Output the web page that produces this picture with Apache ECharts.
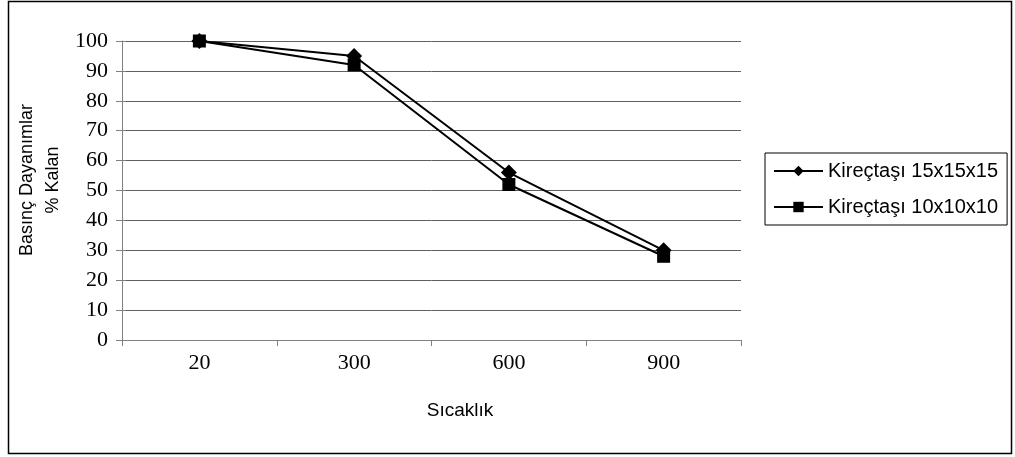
<!DOCTYPE html>
<html>
<head>
<meta charset="utf-8">
<script src="https://cdn.jsdelivr.net/npm/echarts@6/dist/echarts.min.js"></script>
<style>
  html, body { margin: 0; padding: 0; background: #fff; }
  #main { width: 1015px; height: 457px; }
</style>
</head>
<body>
<div id="main"></div>
<script>
// kategoriler (sıcaklık)
const categories = ["20", "300", "600", "900"];
// seriler
const seriesNames = ["Kireçtaşı 15x15x15", "Kireçtaşı 10x10x10"];
const kirec15 = [100, 95, 56, 30];
const kirec10 = [100, 92, 52, 28];

const chart = echarts.init(document.getElementById("main"));

const serifFont = "'Liberation Serif', 'Times New Roman', serif";
const sansFont = "'Liberation Sans', Arial, sans-serif";

const option = {
  animation: false,
  backgroundColor: "#fff",
  grid: { left: 122, right: 274, top: 41, bottom: 117 },
  // çerçeve ve y ekseni başlığı
  graphic: [
    {
      type: "rect",
      shape: { x: 8.5, y: 1.5, width: 1003, height: 452 },
      style: { fill: "none", stroke: "#000", lineWidth: 1.5 },
      silent: true,
    },
    {
      type: "text",
      x: 40,
      y: 180,
      rotation: Math.PI / 2,
      style: {
        text: "Basınç Dayanımlar\n% Kalan",
        font: "18px " + sansFont,
        fill: "#000",
        align: "center",
        verticalAlign: "middle",
        lineHeight: 26,
      },
    },
  ],
  legend: {
    orient: "vertical",
    left: 765,
    top: 153,
    padding: [8, 9, 8, 8],
    itemGap: 16,
    itemWidth: 49,
    itemHeight: 13,
    borderColor: "#000",
    borderWidth: 1,
    borderRadius: 0,
    data: seriesNames,
    lineStyle: { width: 2, color: "#000" },
    textStyle: { fontFamily: sansFont, fontSize: 20, color: "#000" },
  },
  xAxis: {
    type: "category",
    data: categories,
    boundaryGap: true,
    name: "Sıcaklık",
    nameLocation: "middle",
    nameGap: 61,
    nameTextStyle: {
      fontFamily: sansFont,
      fontSize: 19,
      color: "#000",
      padding: [0, 0, 0, 57],
    },
    axisLine: { lineStyle: { color: "#808080", width: 1 } },
    axisTick: { show: true, alignWithLabel: false, length: 6, lineStyle: { color: "#808080" } },
    axisLabel: { fontFamily: serifFont, fontSize: 22, color: "#000", margin: 12 },
    splitLine: { show: false },
  },
  yAxis: [
    {
      type: "value",
      min: 0,
      max: 100,
      interval: 10,
      axisLine: { show: true, lineStyle: { color: "#808080", width: 1 } },
      axisTick: { show: true, length: 6, lineStyle: { color: "#808080" } },
      axisLabel: { fontFamily: serifFont, fontSize: 22, color: "#000", margin: 14 },
      splitLine: { show: true, lineStyle: { color: "#606060", width: 1 } },
    },
    {
      // çapraz tik işaretleri için iç taraf
      type: "value",
      position: "left",
      min: 0,
      max: 100,
      interval: 10,
      axisLine: { show: false },
      axisTick: { show: true, inside: true, length: 4, lineStyle: { color: "#808080" } },
      axisLabel: { show: false },
      splitLine: { show: false },
    },
  ],
  series: [
    {
      name: seriesNames[0],
      type: "line",
      data: kirec15,
      symbol: "diamond",
      symbolSize: 16,
      lineStyle: { color: "#000", width: 2 },
      itemStyle: { color: "#000" },
      z: 2,
    },
    {
      name: seriesNames[1],
      type: "line",
      data: kirec10,
      symbol: "rect",
      symbolSize: 13,
      lineStyle: { color: "#000", width: 2 },
      itemStyle: { color: "#000" },
      z: 3,
    },
  ],
};

chart.setOption(option);
</script>
</body>
</html>
